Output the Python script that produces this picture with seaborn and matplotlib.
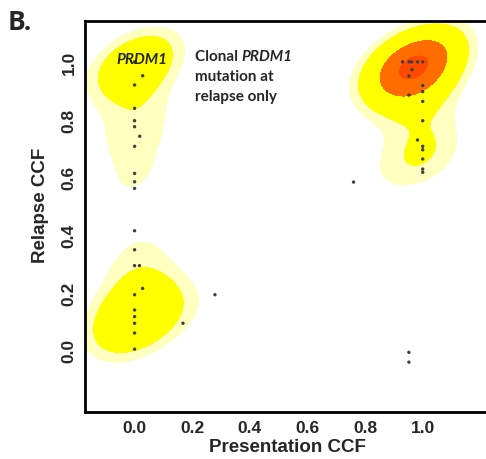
import numpy as np
import pandas as pd
import seaborn as sns
import matplotlib
matplotlib.use("Agg")
import matplotlib.pyplot as plt
from matplotlib.colors import ListedColormap

# ---- data -------------------------------------------------------------
pres_ccf = [0.0, 0.028, 0.0, 0.0, 0.0, 0.0, 0.018, 0.0, 0.0, 0.0, 0.0,
            0.0, 0.0, 0.0, 0.017, 0.028, 0.0, 0.0, 0.0, 0.0, 0.0, 0.0,
            0.279, 0.168,
            0.93, 0.953, 0.962, 0.982, 1.0, 0.963, 0.952, 1.0, 1.0, 0.952,
            1.0, 1.0, 0.982, 1.0, 1.0, 1.0, 1.0, 1.0,
            0.76, 0.952, 0.952]
rel_ccf = [1.0, 0.952, 0.92, 0.839, 0.796, 0.775, 0.742, 0.707, 0.613, 0.584, 0.561,
           0.414, 0.348, 0.293, 0.293, 0.214, 0.192, 0.139, 0.116, 0.093, 0.059, 0.003,
           0.192, 0.093,
           1.0, 1.0, 1.0, 1.0, 1.0, 0.973, 0.951, 0.918, 0.897, 0.885,
           0.863, 0.796, 0.729, 0.707, 0.695, 0.663, 0.628, 0.617,
           0.583, -0.008, -0.042]
# number of mutations stacked on each plotted position
n_mut = [8, 1, 1, 1, 1, 1, 1, 1, 1, 1, 1,
         1, 1, 1, 1, 1, 1, 3, 3, 3, 1, 1,
         1, 1,
         2, 3, 3, 3, 3, 2, 2, 1, 1, 1,
         1, 1, 1, 1, 1, 1, 1, 1,
         1, 1, 1]

x_ticks = [0.0, 0.2, 0.4, 0.6, 0.8, 1.0]
y_ticks = [0.0, 0.2, 0.4, 0.6, 0.8, 1.0]
x_label = "Presentation CCF"
y_label = "Relapse CCF"
panel = "B."
gene = "PRDM1"

df = pd.DataFrame({"pres": pres_ccf, "rel": rel_ccf, "n": n_mut})

heat = ["#FFFFBF", "#FFFF40", "#FFFF00", "#FFDB00", "#FF9200", "#FF6D00", "#FF4900"]
iso_levels = [0.33, 0.37, 0.41, 0.45, 0.53, 0.88, 0.975, 1.0]

sns.set_style("white")
fig = plt.figure(figsize=(4.86, 4.60), dpi=100)
ax = fig.add_axes([85 / 486, 1 - 413 / 460, (489 - 85) / 486, (413 - 22) / 460])

sns.kdeplot(x=df["pres"], y=df["rel"], weights=df["n"], fill=True,
            levels=iso_levels, cmap=ListedColormap(heat), bw_adjust=0.42,
            gridsize=250, cut=4, ax=ax)
cs = ax.collections[-1]
cs.set_facecolor(heat)

sns.scatterplot(x=df["pres"], y=df["rel"], s=6, color="#404040",
                edgecolor="none", ax=ax, zorder=5)

ax.set_xlim(-0.172, 1.23)
ax.set_ylim(-0.215, 1.142)
ax.set_xticks(x_ticks)
ax.set_yticks(y_ticks)
tick_font = dict(family="Liberation Sans", weight="bold", size=12.5)
ax.set_xticklabels([f"{v:.1f}" for v in x_ticks], fontdict=tick_font)
ax.set_yticklabels([f"{v:.1f}" for v in y_ticks], fontdict=tick_font,
                   rotation=90, va="center")
ax.tick_params(length=0, pad=6)
ax.set_xlabel(x_label, family="Liberation Sans", weight="bold", size=13.5, labelpad=2)
ax.set_ylabel(y_label, family="Liberation Sans", weight="bold", size=13.5)
ax.yaxis.set_label_coords(-0.088, 0.53)
for s in ax.spines.values():
    s.set_color("black")
    s.set_linewidth(2)

ax.text(0.024, 1.01, gene, family="Lato", style="italic", weight="bold",
        size=11, ha="center", va="center", zorder=10)
t1 = ax.text(0.21, 1.02, "Clonal ", family="Lato", weight="bold", size=11,
             ha="left", va="center", zorder=10)
ax.annotate(gene, xy=(1, 0), xycoords=t1, va="bottom", ha="left",
            family="Lato", style="italic", weight="bold", size=11, zorder=10)
ax.text(0.21, 1.02 - 20 / 288, "mutation at", family="Lato", weight="bold",
        size=11, ha="left", va="center", zorder=10)
ax.text(0.21, 1.02 - 40 / 288, "relapse only", family="Lato", weight="bold",
        size=11, ha="left", va="center", zorder=10)

fig.text(8 / 486, 1 - 22 / 460, panel, family="Open Sans", weight="bold",
         size=19, ha="left", va="center")

fig.savefig("out.png", dpi=100)
